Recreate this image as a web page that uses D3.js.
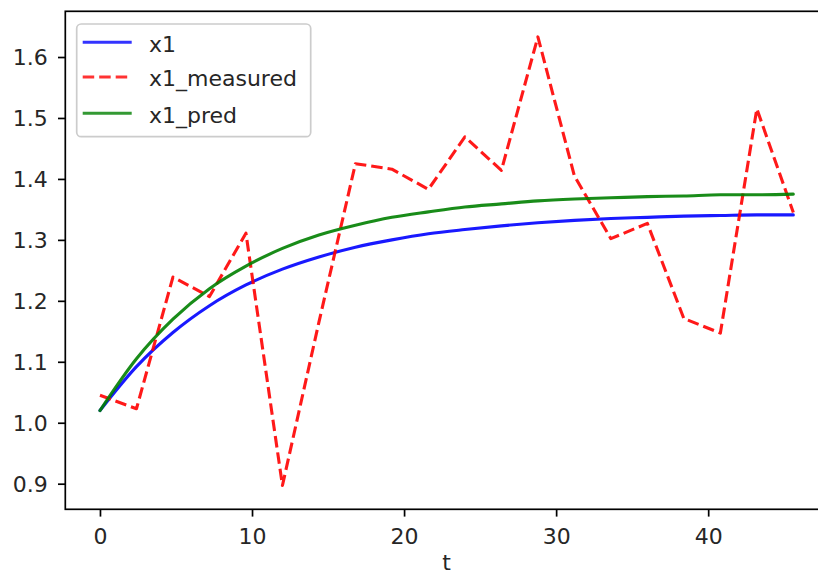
<!DOCTYPE html>
<html>
<head>
<meta charset="utf-8">
<script src="https://cdn.jsdelivr.net/npm/d3@7"></script>
<style>
  html, body { margin: 0; padding: 0; background: #fff; }
  svg { display: block; font-family: "DejaVu Sans", sans-serif; }
</style>
</head>
<body>
<svg id="chart" width="818" height="576"></svg>
<script>
// ---- data ----
const tValues = [0, 2.4, 4.8, 7.2, 9.6, 12, 14.4, 16.8, 19.2, 21.6, 24, 26.4, 28.8, 31.2, 33.6, 36, 38.4, 40.8, 43.2, 45.6];
const x1 = [1.020, 1.092, 1.148, 1.192, 1.226, 1.252, 1.272, 1.288, 1.300, 1.310, 1.317, 1.323, 1.328, 1.332, 1.335, 1.337, 1.339, 1.340, 1.341, 1.341];
const x1Measured = [1.045, 1.023, 1.239, 1.207, 1.311, 0.897, 1.165, 1.425, 1.416, 1.383, 1.469, 1.414, 1.633, 1.405, 1.302, 1.327, 1.171, 1.147, 1.515, 1.345];
const x1Pred = [1.020, 1.105, 1.170, 1.220, 1.257, 1.286, 1.308, 1.324, 1.337, 1.346, 1.354, 1.359, 1.364, 1.367, 1.369, 1.371, 1.372, 1.374, 1.374, 1.375];
const xTicks = [0, 10, 20, 30, 40];
const yTicks = [0.9, 1.0, 1.1, 1.2, 1.3, 1.4, 1.5, 1.6];
const seriesNames = ["x1", "x1_measured", "x1_pred"];

(function () {
  // ---- layout ----
  const svg = d3.select("#chart");
  const FS = 22;
  const pLeft = 65.3, pRight = 828, pTop = 11.3, pBottom = 509.3;
  const x = d3.scaleLinear().domain([-2.28, 47.88]).range([pLeft, pRight]);
  const y = d3.scaleLinear().domain([0.858, 1.675]).range([pBottom, pTop]);

  const series = [
    { name: seriesNames[0], values: x1, color: "#0000ff", dash: null, smooth: true },
    { name: seriesNames[1], values: x1Measured, color: "#ff0000", dash: "11.5,5", smooth: false },
    { name: seriesNames[2], values: x1Pred, color: "#008000", dash: null, smooth: true }
  ];

  series.forEach(s => {
    const line = d3.line()
      .x((d, i) => x(tValues[i]))
      .y(d => y(d))
      .curve(s.smooth ? d3.curveMonotoneX : d3.curveLinear);
    svg.append("path")
      .datum(s.values)
      .attr("d", line)
      .attr("fill", "none")
      .attr("stroke", s.color)
      .attr("stroke-opacity", 0.9)
      .attr("stroke-width", 3.1)
      .attr("stroke-dasharray", s.dash)
      .attr("stroke-linejoin", "round")
      .attr("stroke-linecap", s.dash ? "butt" : "round");
  });

  // ---- axes ----
  const gx = svg.append("g").attr("transform", `translate(0,${pBottom})`)
    .call(d3.axisBottom(x).tickValues(xTicks).tickFormat(d3.format("d")).tickSize(7.3).tickSizeOuter(0));
  const gy = svg.append("g").attr("transform", `translate(${pLeft},0)`)
    .call(d3.axisLeft(y).tickValues(yTicks).tickFormat(d3.format(".1f")).tickSize(7.3).tickSizeOuter(0));

  [gx, gy].forEach(g => {
    g.select(".domain").remove();
    g.selectAll(".tick line").attr("stroke", "#000").attr("stroke-width", 1.7);
    g.selectAll(".tick text").attr("fill", "#262626").style("font-size", FS + "px").style("font-family", "DejaVu Sans");
  });
  gx.selectAll(".tick text").attr("y", 34.5).attr("dy", null);
  gy.selectAll(".tick text").attr("x", -17.5).attr("dy", "0.34em");

  // frame (spines)
  svg.append("rect")
    .attr("x", pLeft).attr("y", pTop)
    .attr("width", pRight - pLeft).attr("height", pBottom - pTop)
    .attr("fill", "none").attr("stroke", "#000").attr("stroke-width", 1.7);

  // x label
  svg.append("text")
    .attr("x", (pLeft + pRight) / 2).attr("y", 569.5)
    .attr("text-anchor", "middle")
    .attr("fill", "#262626")
    .style("font-size", FS + "px")
    .text("t");

  // ---- legend ----
  const lg = svg.append("g");
  lg.append("rect")
    .attr("x", 76.7).attr("y", 24).attr("width", 234).attr("height", 112.7)
    .attr("rx", 4.5).attr("ry", 4.5)
    .attr("fill", "#fff").attr("fill-opacity", 0.8)
    .attr("stroke", "#cccccc").attr("stroke-width", 1.7);
  const rowY = [42.3, 77, 113.3];
  series.forEach((s, i) => {
    lg.append("line")
      .attr("x1", 82.7).attr("x2", 131.7)
      .attr("y1", rowY[i]).attr("y2", rowY[i])
      .attr("stroke", s.color).attr("stroke-opacity", 0.8)
      .attr("stroke-width", 3.1)
      .attr("stroke-dasharray", s.dash);
    lg.append("text")
      .attr("x", 149).attr("y", rowY[i] + 9.2)
      .attr("fill", "#262626")
      .style("font-size", FS + "px")
      .text(s.name);
  });
})();
</script>
</body>
</html>
